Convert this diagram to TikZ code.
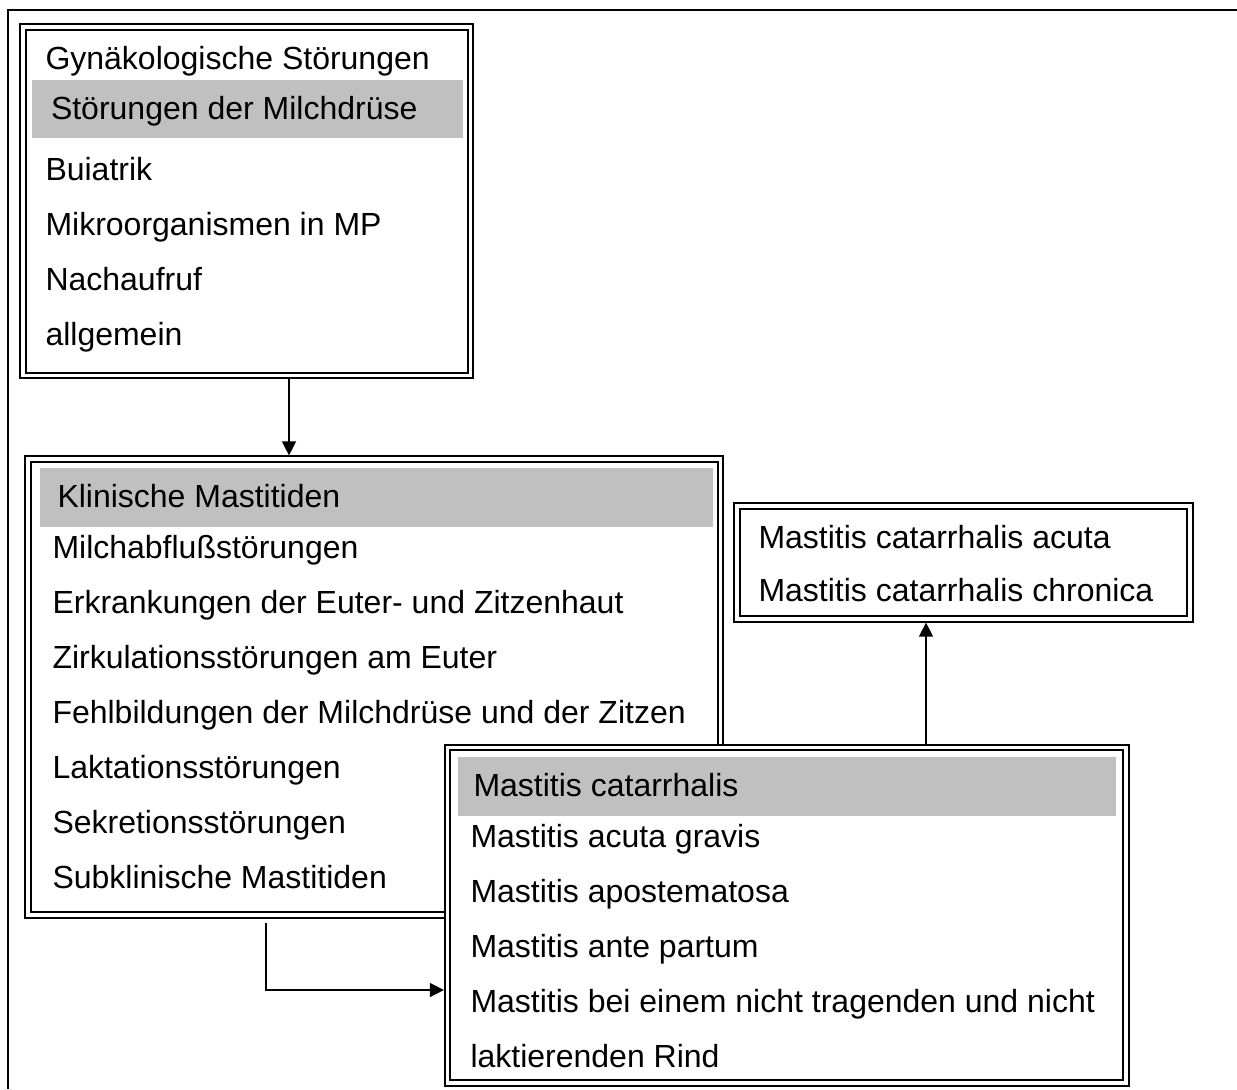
\documentclass[tikz,border=0pt]{standalone}
\usepackage{fontspec}
\setmainfont{Liberation Sans}
\usetikzlibrary{arrows.meta}
\definecolor{barGray}{RGB}{192,192,192}

\begin{document}
\begin{tikzpicture}[x=0.75pt, y=-0.75pt, every node/.style={rectangle, inner sep=0pt, outer sep=0pt},
	box/.style={draw, double, line width=1.5pt, double distance=2.4pt, fill=white, anchor=north west},
	bar/.style={fill=barGray, anchor=north west},
	entry/.style={anchor=base west, font=\fontsize{24}{28}\selectfont},
	arr/.style={-{Triangle[length=10.5pt, width=10.5pt]}, line width=1pt, shorten <=2.7pt, shorten >=2.7pt}]
	\useasboundingbox (0,0) rectangle (1237,1089);
	\draw[line width=1.5pt] (8,1089) -- (8,10) -- (1237,10);
	% boxes
	\node[box, minimum width=335.6pt, minimum height=261.5pt] (gyn) at (23,27) {};
	\node[box, minimum width=519.4pt, minimum height=342pt] (klin) at (28,459) {};
	\node[box, minimum width=339.75pt, minimum height=84.75pt] (catSub) at (737,506) {};
	\node[box, minimum width=508.9pt, minimum height=251.6pt] (cat) at (447.5,747.5) {};
	% grey title rows
	\node[bar, minimum width=323.25pt, minimum height=43.5pt] (gynBar) at (32,80) {};
	\node[bar, minimum width=504.75pt, minimum height=44.25pt] (klinBar) at (40,468) {};
	\node[bar, minimum width=493.5pt, minimum height=44.25pt] (catBar) at (458,757) {};
	% first box
	\node[entry] (gynak) at (45.5,69) {Gynäkologische Störungen};
	\node[entry] (milchdr) at (51,119) {Störungen der Milchdrüse};
	\node[entry] (buiatrik) at (45.5,180) {Buiatrik};
	\node[entry] (mikro) at (45.5,235) {Mikroorganismen in MP};
	\node[entry] (nachauf) at (45.5,290) {Nachaufruf};
	\node[entry] (allg) at (45.5,345) {allgemein};
	% second box
	\node[entry] (klinTxt) at (57.5,507) {Klinische Mastitiden};
	\node[entry] (abfluss) at (52.5,558) {Milchabflußstörungen};
	\node[entry] (haut) at (52.5,613) {Erkrankungen der Euter- und Zitzenhaut};
	\node[entry] (zirk) at (52.5,668) {Zirkulationsstörungen am Euter};
	\node[entry] (fehlb) at (52.5,723) {Fehlbildungen der Milchdrüse und der Zitzen};
	\node[entry] (lakt) at (52.5,778) {Laktationsstörungen};
	\node[entry] (sekr) at (52.5,833) {Sekretionsstörungen};
	\node[entry] (subkl) at (52.5,888) {Subklinische Mastitiden};
	% right box
	\node[entry] (catAcuta) at (758.5,548) {Mastitis catarrhalis acuta};
	\node[entry] (catChron) at (758.5,601) {Mastitis catarrhalis chronica};
	% bottom box
	\node[entry] (catTxt) at (473.5,796) {Mastitis catarrhalis};
	\node[entry] (gravis) at (470.5,847) {Mastitis acuta gravis};
	\node[entry] (apost) at (470.5,902) {Mastitis apostematosa};
	\node[entry] (antep) at (470.5,957) {Mastitis ante partum};
	\node[entry] (beiA) at (470.5,1012) {Mastitis bei einem nicht tragenden und nicht};
	\node[entry] (beiB) at (470.5,1067) {laktierenden Rind};
	% connectors
	\coordinate (downX) at (289,0);
	\coordinate (upX) at (926,0);
	\coordinate (bend) at (266,990);
	\draw[arr] (gyn.south -| downX) -- (klin.north -| downX);
	\draw[arr] (cat.north -| upX) -- (catSub.south -| upX);
	\draw[arr, shorten <=5.7pt] (klin.south -| bend) |- (cat.west |- bend);
\end{tikzpicture}
\end{document}
